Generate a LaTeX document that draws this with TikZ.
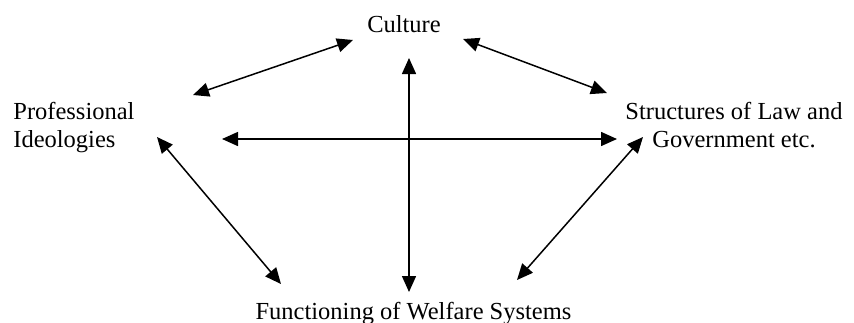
\documentclass[tikz,border=0pt]{standalone}
\usepackage{fontspec}
\setmainfont{Liberation Serif}
\usetikzlibrary{arrows.meta}
\begin{document}
\begin{tikzpicture}[x=0.5pt,y=-0.5pt,
  lbl/.style={inner sep=0pt,font=\fontsize{12.25}{14}\selectfont},
  link/.style={line width=0.75pt,{Triangle[length=8pt,width=7pt]}-{Triangle[length=8pt,width=7pt]}}]
\useasboundingbox (0,0) rectangle (854,322);
\node[lbl,anchor=base] (cul) at (404,32) {Culture};
\node[lbl,anchor=base west,align=left] (pro) at (13,147) {Professional\\Ideologies};
\node[lbl,anchor=base,align=center] (str) at (734,147) {Structures of Law and\\Government etc.};
\node[lbl,anchor=base] (fun) at (413.5,319) {Functioning of Welfare Systems};
\coordinate (cp1) at (193,95);  \coordinate (cp2) at (353,40);
\coordinate (cs1) at (463,39);  \coordinate (cs2) at (607,93);
\coordinate (v1) at (409,58);   \coordinate (v2) at (409,292);
\coordinate (h1) at (222,139);  \coordinate (h2) at (617,139);
\coordinate (pf1) at (157,137); \coordinate (pf2) at (281,284);
\coordinate (sf1) at (643,137); \coordinate (sf2) at (517,280);
\draw[link] (cp1) -- (cp2);
\draw[link] (cs1) -- (cs2);
\draw[link] (v1) -- (v2);
\draw[link] (h1) -- (h2);
\draw[link] (pf1) -- (pf2);
\draw[link] (sf1) -- (sf2);
\end{tikzpicture}
\end{document}
